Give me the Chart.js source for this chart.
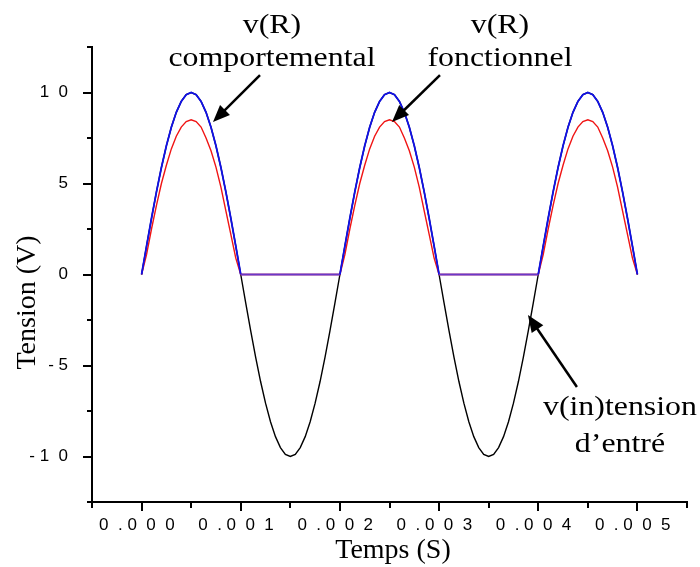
<!DOCTYPE html>
<html>
<head>
<meta charset="utf-8">
<title>Redressement simple alternance</title>
<script src="https://cdn.jsdelivr.net/npm/chart.js@4.4.0/dist/chart.umd.min.js"></script>
<style>
    html, body { margin: 0; padding: 0; background: #fff; }
    #wrap { width: 700px; height: 567px; }
</style>
</head>
<body>
<div id="wrap"><canvas id="redresseur"></canvas></div>
<script>
// Temps (s), pas de 50 us
var temps = [
    0, 0.00005, 0.0001, 0.00015, 0.0002, 0.00025, 0.0003, 0.00035, 0.0004, 0.00045,
    0.0005, 0.00055, 0.0006, 0.00065, 0.0007, 0.00075, 0.0008, 0.00085, 0.0009, 0.00095,
    0.001, 0.00105, 0.0011, 0.00115, 0.0012, 0.00125, 0.0013, 0.00135, 0.0014, 0.00145,
    0.0015, 0.00155, 0.0016, 0.00165, 0.0017, 0.00175, 0.0018, 0.00185, 0.0019, 0.00195,
    0.002, 0.00205, 0.0021, 0.00215, 0.0022, 0.00225, 0.0023, 0.00235, 0.0024, 0.00245,
    0.0025, 0.00255, 0.0026, 0.00265, 0.0027, 0.00275, 0.0028, 0.00285, 0.0029, 0.00295,
    0.003, 0.00305, 0.0031, 0.00315, 0.0032, 0.00325, 0.0033, 0.00335, 0.0034, 0.00345,
    0.0035, 0.00355, 0.0036, 0.00365, 0.0037, 0.00375, 0.0038, 0.00385, 0.0039, 0.00395,
    0.004, 0.00405, 0.0041, 0.00415, 0.0042, 0.00425, 0.0043, 0.00435, 0.0044, 0.00445,
    0.0045, 0.00455, 0.0046, 0.00465, 0.0047, 0.00475, 0.0048, 0.00485, 0.0049, 0.00495,
    0.005
];

// v(in) : tension d'entree (V)
var vIn = [
    0, 1.56, 3.09, 4.54, 5.88, 7.07, 8.09, 8.91, 9.51, 9.88,
    10, 9.88, 9.51, 8.91, 8.09, 7.07, 5.88, 4.54, 3.09, 1.56,
    0, -1.56, -3.09, -4.54, -5.88, -7.07, -8.09, -8.91, -9.51, -9.88,
    -10, -9.88, -9.51, -8.91, -8.09, -7.07, -5.88, -4.54, -3.09, -1.56,
    0, 1.56, 3.09, 4.54, 5.88, 7.07, 8.09, 8.91, 9.51, 9.88,
    10, 9.88, 9.51, 8.91, 8.09, 7.07, 5.88, 4.54, 3.09, 1.56,
    0, -1.56, -3.09, -4.54, -5.88, -7.07, -8.09, -8.91, -9.51, -9.88,
    -10, -9.88, -9.51, -8.91, -8.09, -7.07, -5.88, -4.54, -3.09, -1.56,
    0, 1.56, 3.09, 4.54, 5.88, 7.07, 8.09, 8.91, 9.51, 9.88,
    10, 9.88, 9.51, 8.91, 8.09, 7.07, 5.88, 4.54, 3.09, 1.56,
    0
];

// v(R) modele comportemental (V)
var vRComport = [
    0, 1.56, 3.09, 4.54, 5.88, 7.07, 8.09, 8.91, 9.51, 9.88,
    10, 9.88, 9.51, 8.91, 8.09, 7.07, 5.88, 4.54, 3.09, 1.56,
    0, 0, 0, 0, 0, 0, 0, 0, 0, 0,
    0, 0, 0, 0, 0, 0, 0, 0, 0, 0,
    0, 1.56, 3.09, 4.54, 5.88, 7.07, 8.09, 8.91, 9.51, 9.88,
    10, 9.88, 9.51, 8.91, 8.09, 7.07, 5.88, 4.54, 3.09, 1.56,
    0, 0, 0, 0, 0, 0, 0, 0, 0, 0,
    0, 0, 0, 0, 0, 0, 0, 0, 0, 0,
    0, 1.56, 3.09, 4.54, 5.88, 7.07, 8.09, 8.91, 9.51, 9.88,
    10, 9.88, 9.51, 8.91, 8.09, 7.07, 5.88, 4.54, 3.09, 1.56,
    0
];

// v(R) modele fonctionnel (V)
var vRFonct = [
    0, 1.1, 2.5, 3.8, 5.0, 6.0, 6.9, 7.6, 8.1, 8.4,
    8.5, 8.4, 8.1, 7.5, 6.8, 5.9, 4.8, 3.5, 2.2, 0.9,
    0, 0, 0, 0, 0, 0, 0, 0, 0, 0,
    0, 0, 0, 0, 0, 0, 0, 0, 0, 0,
    0, 1.1, 2.5, 3.8, 5.0, 6.0, 6.9, 7.6, 8.1, 8.4,
    8.5, 8.4, 8.1, 7.5, 6.8, 5.9, 4.8, 3.5, 2.2, 0.9,
    0, 0, 0, 0, 0, 0, 0, 0, 0, 0,
    0, 0, 0, 0, 0, 0, 0, 0, 0, 0,
    0, 1.1, 2.5, 3.8, 5.0, 6.0, 6.9, 7.6, 8.1, 8.4,
    8.5, 8.4, 8.1, 7.5, 6.8, 5.9, 4.8, 3.5, 2.2, 0.9,
    0
];

// graduations
var xTickValues = [0, 0.001, 0.002, 0.003, 0.004, 0.005];
var xTickLabels = ['0  . 0  0  0  ', '0  . 0  0  1  ', '0  . 0  0  2  ', '0  . 0  0  3  ', '0  . 0  0  4  ', '0  . 0  0  5  '];
var yTickValues = [-10, -5, 0, 5, 10];
var yTickLabels = ['- 1  0', '- 5', '0', '5', '1  0'];

function findLabel(value, values, labels) {
    for (var i = 0; i < values.length; i++) {
        if (Math.abs(values[i] - value) < 1e-7) return labels[i];
    }
    return '';
}

function toPoints(ys) {
    return temps.map(function (t, i) { return { x: t, y: ys[i] }; });
}

// petites graduations plus courtes que les grandes
var tickMarks = {
    id: 'tickMarks',
    afterDraw: function (chart) {
        var ctx = chart.ctx, x = chart.scales.x, y = chart.scales.y;
        ctx.save();
        ctx.strokeStyle = '#000';
        ctx.lineWidth = 2;
        ctx.beginPath();
        x.ticks.forEach(function (tk) {
            var px = Math.round(x.getPixelForValue(tk.value));
            var len = findLabel(tk.value, xTickValues, xTickLabels) ? 9 : 6;
            ctx.moveTo(px, x.top);
            ctx.lineTo(px, x.top + len);
        });
        y.ticks.forEach(function (tk) {
            var py = Math.round(y.getPixelForValue(tk.value));
            var len = findLabel(tk.value, yTickValues, yTickLabels) ? 9 : 5;
            ctx.moveTo(y.right, py);
            ctx.lineTo(y.right - len, py);
        });
        ctx.stroke();
        ctx.restore();
    }
};

// legendes flechees, placees en coordonnees (t, V)
var notes = [
    { lines: ['v(R)', 'comportemental'], t: 0.001315, v: [13.27, 11.46], tail: [0.001194, 10.96], tip: [0.00072, 8.38] },
    { lines: ['v(R)', 'fonctionnel'], t: 0.003614, v: [13.27, 11.46], tail: [0.003009, 10.96], tip: [0.002525, 8.38] },
    { lines: ['v(in)tension', 'd\u2019entr\u00e9'], t: 0.004824, v: [-7.72, -9.75], tail: [0.00439, -6.18], tip: [0.003896, -2.23] }
];

function drawArrow(ctx, x0, y0, x1, y1) {
    var ang = Math.atan2(y1 - y0, x1 - x0);
    var head = 17, half = 7;
    var bx = x1 - head * Math.cos(ang), by = y1 - head * Math.sin(ang);
    ctx.lineWidth = 2.5;
    ctx.beginPath();
    ctx.moveTo(x0, y0);
    ctx.lineTo(bx + Math.cos(ang) * 2, by + Math.sin(ang) * 2);
    ctx.stroke();
    ctx.beginPath();
    ctx.moveTo(x1, y1);
    ctx.lineTo(bx + half * Math.sin(ang), by - half * Math.cos(ang));
    ctx.lineTo(bx - half * Math.sin(ang), by + half * Math.cos(ang));
    ctx.closePath();
    ctx.fill();
}

var annotations = {
    id: 'annotations',
    afterDraw: function (chart) {
        var ctx = chart.ctx, x = chart.scales.x, y = chart.scales.y;
        ctx.save();
        ctx.fillStyle = '#000';
        ctx.strokeStyle = '#000';
        ctx.font = '27px "Liberation Serif", "Times New Roman", serif';
        ctx.textAlign = 'center';
        ctx.textBaseline = 'alphabetic';
        notes.forEach(function (n) {
            var cx = x.getPixelForValue(n.t);
            n.lines.forEach(function (line, i) {
                ctx.save();
                ctx.translate(cx, y.getPixelForValue(n.v[i]));
                ctx.scale(1.18, 1);
                ctx.fillText(line, 0, 0);
                ctx.restore();
            });
            drawArrow(ctx,
                x.getPixelForValue(n.tail[0]), y.getPixelForValue(n.tail[1]),
                x.getPixelForValue(n.tip[0]), y.getPixelForValue(n.tip[1]));
        });
        ctx.restore();
    }
};

var sansTicks = { family: '"Liberation Sans", Arial, sans-serif', size: 17 };
var serifTitle = { family: '"Liberation Serif", "Times New Roman", serif', size: 28 };

var ctx = document.getElementById('redresseur').getContext('2d');
var chart = new Chart(ctx, {
    type: 'line',
    data: {
        datasets: [{
            label: 'v(R) comportemental',
            data: toPoints(vRComport),
            borderColor: '#1010e8',
            borderWidth: 1.8,
            pointRadius: 0,
            tension: 0,
            fill: false,
            segment: {
                // la ou les deux sorties sont nulles, les traces bleu et rouge se confondent
                borderColor: function (c) {
                    return (c.p0.parsed.y === 0 && c.p1.parsed.y === 0) ? '#6a38c8' : undefined;
                }
            }
        }, {
            label: 'v(R) fonctionnel',
            data: toPoints(vRFonct),
            borderColor: '#f01414',
            borderWidth: 1.4,
            pointRadius: 0,
            tension: 0,
            fill: false
        }, {
            label: 'v(in)',
            data: toPoints(vIn),
            borderColor: '#000',
            borderWidth: 1.4,
            pointRadius: 0,
            tension: 0,
            fill: false
        }]
    },
    options: {
        responsive: true,
        maintainAspectRatio: false,
        animation: false,
        layout: { padding: { top: 47, right: 13, left: 0, bottom: 0 } },
        plugins: {
            legend: { display: false },
            tooltip: { enabled: false }
        },
        scales: {
            x: {
                type: 'linear',
                min: -0.0005,
                max: 0.0055,
                afterFit: function (s) { s.height = 65; },
                grid: { display: false, drawTicks: false },
                border: { display: true, color: '#000', width: 2 },
                ticks: {
                    stepSize: 0.0005,
                    autoSkip: false,
                    maxRotation: 0,
                    minRotation: 0,
                    padding: 13,
                    color: '#000',
                    font: sansTicks,
                    callback: function (v) { return findLabel(v, xTickValues, xTickLabels); }
                },
                title: {
                    display: true,
                    text: ' Temps (S)',
                    color: '#000',
                    font: serifTitle,
                    padding: { top: 0, bottom: 0 }
                }
            },
            y: {
                type: 'linear',
                min: -12.5,
                max: 12.5,
                afterFit: function (s) { s.width = 92; },
                grid: { display: false, drawTicks: false },
                border: { display: true, color: '#000', width: 2 },
                ticks: {
                    stepSize: 2.5,
                    autoSkip: false,
                    padding: 24,
                    color: '#000',
                    font: sansTicks,
                    callback: function (v) { return findLabel(v, yTickValues, yTickLabels); }
                },
                title: {
                    display: true,
                    text: 'Tension (V)        ',
                    color: '#000',
                    font: serifTitle,
                    padding: { top: 11, bottom: 0 }
                }
            }
        }
    },
    plugins: [tickMarks, annotations]
});
</script>
</body>
</html>
